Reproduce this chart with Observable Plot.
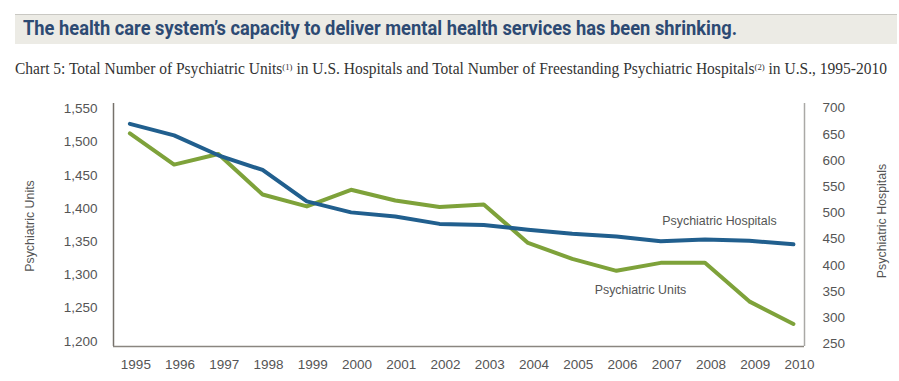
<!DOCTYPE html>
<html><head><meta charset="utf-8">
<script src="https://cdn.jsdelivr.net/npm/d3@7"></script>
<script src="https://cdn.jsdelivr.net/npm/@observablehq/plot@0.6"></script>
<style>
body{margin:0;background:#fff;width:899px;height:381px;overflow:hidden;position:relative;font-family:"Liberation Sans",Arial,sans-serif}
#band{position:absolute;left:15px;top:14px;width:882px;height:29px;background:#ecebe5;border-top:1.5px solid #c9c8c3}
#title{position:absolute;left:23px;top:18px;font:bold 21px/21px Roboto,"Liberation Sans",sans-serif;color:#2d4a73;white-space:nowrap;transform-origin:0 0}
#sub{position:absolute;left:15px;top:60.6px;font:16px/16px "Liberation Serif",serif;color:#333;white-space:nowrap;transform-origin:0 0}
#sub .s{position:relative;top:-0.45em;font-size:9px}
#chart{position:absolute;left:0;top:80px}
.ylab{position:absolute;font:12.4px "Liberation Sans",Arial,sans-serif;color:#555;white-space:nowrap;transform:translate(-50%,-50%) rotate(-90deg)}
</style></head>
<body>
<div id="band"></div>
<div id="title">The health care system’s capacity to deliver mental health services has been shrinking.</div>
<div id="sub">Chart 5: Total Number of Psychiatric Units<span class="s">(1)</span> in U.S. Hospitals and Total Number of Freestanding Psychiatric Hospitals<span class="s">(2)</span> in U.S., 1995-2010</div>
<div id="chart"></div>
<div class="ylab" style="left:30px;top:225.5px">Psychiatric Units</div>
<div class="ylab" style="left:882px;top:221px">Psychiatric Hospitals</div>
<script>
const years = [1995,1996,1997,1998,1999,2000,2001,2002,2003,2004,2005,2006,2007,2008,2009,2010];
const psychiatricUnits = [1513,1466,1482,1421,1403,1428,1412,1402,1406,1348,1324,1306,1318,1318,1260,1226];
const psychiatricHospitals = [670,648,610,582,522,501,493,479,477,468,460,455,446,449,447,440];
const unitTicks = [1200,1250,1300,1350,1400,1450,1500,1550];
const hospitalTicks = [250,300,350,400,450,500,550,600,650,700];
const seriesNames = ["Psychiatric Units","Psychiatric Hospitals"];

// scale layout
const xDomain = [1994.63, 2010.25];
const yDomain = [1192, 1558];
// right axis (hospitals) aligned to left axis (units)
const hospToUnits = d3.scaleLinear().domain([250,700]).range([1196,1551]);

const unitsData = years.map((year,i)=>({year, value: psychiatricUnits[i]}));
const hospData = years.map((year,i)=>({year, raw: psychiatricHospitals[i], value: hospToUnits(psychiatricHospitals[i])}));

const blue = "#215f8e", green = "#7ea23a";

const chart = Plot.plot({
  width: 899, height: 301,
  marginTop: 23, marginBottom: 35, marginLeft: 113, marginRight: 95,
  x: {domain: xDomain, axis: null},
  y: {domain: yDomain, axis: null},
  style: {fontFamily: '"Liberation Sans", Arial, sans-serif', fontSize: "13.5px", color: "#555", background: "transparent", overflow: "visible"},
  marks: [
    Plot.ruleX([xDomain[1]], {stroke: "#aaa9a6", strokeWidth: 1.5}),
    Plot.ruleX([xDomain[0]], {stroke: "#76716b", strokeWidth: 1.5}),
    Plot.ruleY([yDomain[0]], {stroke: "#8a8680", strokeWidth: 1.5}),
    Plot.text(unitTicks, {y: d=>d, frameAnchor: "left", textAnchor: "end", dx: -16, text: d=>d3.format(",")(d), fill: "#555", fontSize: 13.5}),
    Plot.text(hospitalTicks, {y: d=>hospToUnits(d), frameAnchor: "right", textAnchor: "start", dx: 18, text: d=>String(d), fill: "#555", fontSize: 13.5}),
    Plot.text(years, {x: d=>d, frameAnchor: "bottom", lineAnchor: "middle", dy: 18, dx: 6, text: d=>String(d), fill: "#555", fontSize: 13.5}),
    Plot.line(unitsData, {x: "year", y: "value", stroke: green, strokeWidth: 4, strokeLinejoin: "round"}),
    Plot.line(hospData, {x: "year", y: "value", stroke: blue, strokeWidth: 4, strokeLinejoin: "round"}),
    Plot.text([hospData[13]], {x: "year", y: "value", text: ()=>seriesNames[1], dx: 14.5, dy: -19, fill: "#555", fontSize: 12.4}),
    Plot.text([unitsData[11]], {x: "year", y: "value", text: ()=>seriesNames[0], dx: 24, dy: 19, fill: "#555", fontSize: 12.4})
  ]
});
document.getElementById("chart").appendChild(chart);

function fit(id, target){
  const el = document.getElementById(id);
  const w = el.getBoundingClientRect().width;
  el.style.transform = `scaleX(${target/w})`;
}
fit("title", 714);
fit("sub", 872);
</script>
</body></html>
